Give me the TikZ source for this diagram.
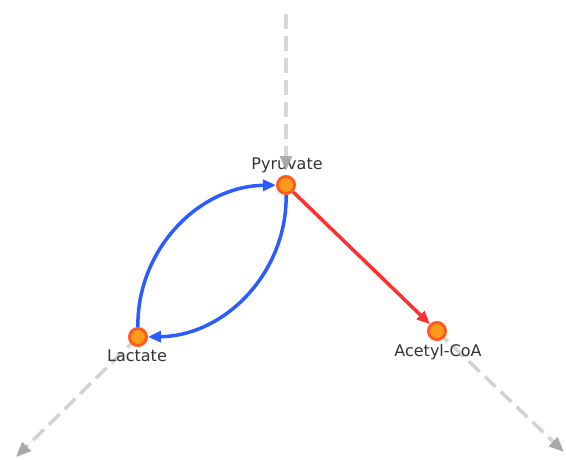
\documentclass[tikz,border=0pt]{standalone}
\usepackage{fontspec}
\setmainfont{DejaVu Sans}
\usetikzlibrary{arrows.meta}
\definecolor{txt}{HTML}{333333}
\definecolor{nodefill}{HTML}{FF9A1A}
\definecolor{nodeborder}{HTML}{FF5A1F}
\definecolor{blueedge}{HTML}{2B5CFF}
\definecolor{rededge}{HTML}{FF3030}
\definecolor{grayline}{HTML}{D3D3D3}
\definecolor{grayhead}{HTML}{A8A8A8}
\tikzset{
  met/.style={circle,fill=nodefill,draw=nodeborder,line width=3pt,minimum size=17pt,inner sep=0pt},
  lab/.style={text=txt,font=\fontsize{16pt}{18pt}\selectfont,inner sep=0pt},
  flux/.style={line width=3.5pt,-{Triangle[length=13pt,width=11pt]}},
  ext/.style={grayline,line width=3.5pt,dash pattern=on 15pt off 7pt,-{Triangle[length=15pt,width=12pt,color=grayhead]}}
}
\begin{document}
\begin{tikzpicture}[x=1pt,y=-1pt]
\useasboundingbox (0,0) rectangle (566,459);
\coordinate (topin) at (286,14);
\coordinate (outl) at (16,457);
\coordinate (outr) at (564,452);
\coordinate (pyrc) at (286,185);
\coordinate (lacc0) at (138,337);
\coordinate (accc) at (437,331);
\node[lab] (lpyr) at (287,165) {Pyruvate};
\draw[ext] (lacc0) -- (outl);
\draw[ext] (accc) -- (outr);
\node[met] (pyr) at (pyrc) {};
\node[met] (lac) at (lacc0) {};
\node[met] (acc) at (accc) {};
\draw[flux,blueedge] (lac) to[bend left=45] (pyr);
\draw[flux,blueedge] (pyr) to[bend left=45] (lac);
\draw[flux,rededge] (pyr) -- (acc);
\node[lab] (llac) at (137,356) {Lactate};
\node[lab] (lacc) at (438,352) {Acetyl-CoA};
\draw[ext,shorten >=4pt,opacity=0.9] (topin) -- (pyr.north);
\end{tikzpicture}
\end{document}
